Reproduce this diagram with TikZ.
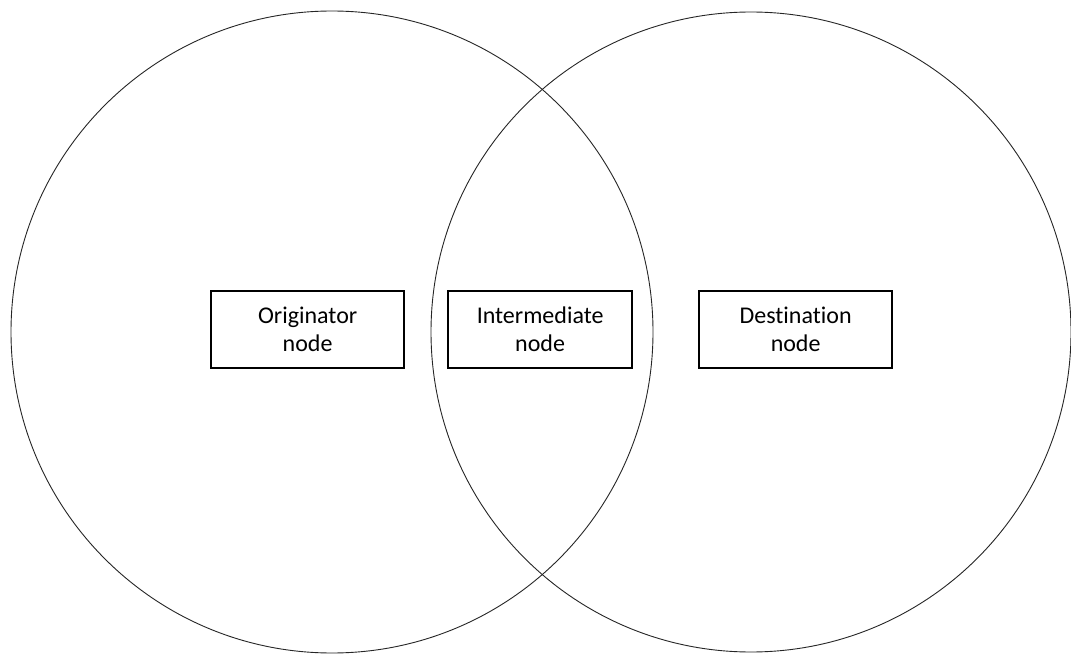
\documentclass[tikz,border=0pt]{standalone}
\usepackage{fontspec}
\setmainfont{Carlito}[Ligatures=NoCommon]
\begin{document}
\begin{tikzpicture}[x=1pt,y=-1pt,
  ring/.style={draw=black!85,line width=0.9pt},
  nodebox/.style={draw=black,line width=2.3pt,minimum width=193pt,minimum height=77pt,
    inner sep=0pt,align=center,font=\fontsize{24}{28}\selectfont,anchor=north west}]
\useasboundingbox (0,0) rectangle (1071,655);
\path[fill=white] (0,0) rectangle (1071,655);
\draw[ring] (332,332) circle[radius=321];
\draw[ring] (751,332) circle[radius=320];
\node[nodebox] (orig) at (210,290) {Originator\\node};
\node[nodebox,minimum width=184pt] (inter) at (447,290) {Intermediate\\node};
\node[nodebox] (dest) at (698,290) {Destination\\node};
\end{tikzpicture}
\end{document}
